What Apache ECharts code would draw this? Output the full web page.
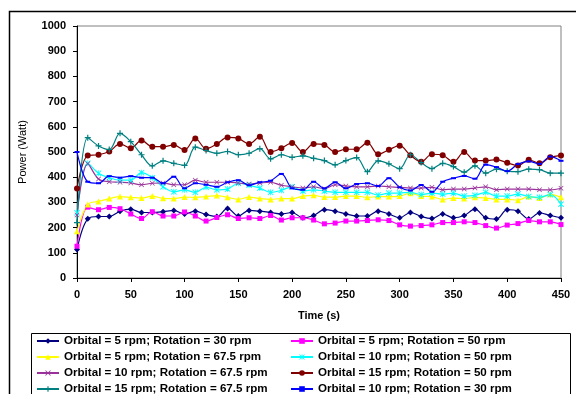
<!DOCTYPE html>
<html>
<head>
<meta charset="utf-8">
<script src="https://cdn.jsdelivr.net/npm/echarts@6/dist/echarts.min.js"></script>
<style>html,body{margin:0;padding:0;background:#fff;}#c{width:576px;height:394px;}</style>
</head>
<body>
<div id="c"></div>
<script>
var times = [0,10,20,30,40,50,60,70,80,90,100,110,120,130,140,150,160,170,180,190,200,210,220,230,240,250,260,270,280,290,300,310,320,330,340,350,360,370,380,390,400,410,420,430,440,450];
var xTicks = [0,50,100,150,200,250,300,350,400,450];
var yTicks = [0,100,200,300,400,500,600,700,800,900,1000];

var names = [
  "Orbital = 5 rpm; Rotation = 30 rpm",
  "Orbital = 5 rpm; Rotation = 50 rpm",
  "Orbital = 5 rpm; Rotation = 67.5 rpm",
  "Orbital = 10 rpm; Rotation = 50 rpm",
  "Orbital = 10 rpm; Rotation = 67.5 rpm",
  "Orbital = 15 rpm; Rotation = 50 rpm",
  "Orbital = 15 rpm; Rotation = 67.5 rpm",
  "Orbital = 10 rpm; Rotation = 30 rpm"
];

var o5r30 = [113,235,244,244,265,273,260,260,263,268,254,265,252,244,276,246,268,265,260,254,260,239,248,271,265,254,246,246,265,254,239,260,244,236,254,239,248,273,239,234,271,265,234,258,248,239];
var o5r50 = [126,281,271,280,275,254,236,263,246,246,262,246,226,240,251,236,239,236,248,230,239,239,230,215,218,226,226,228,231,228,211,206,208,211,220,220,223,220,208,198,210,216,228,223,223,212];
var o5r675 = [186,292,304,315,323,320,317,325,316,315,321,320,323,327,320,312,321,315,312,315,315,325,328,321,321,325,325,320,323,323,325,336,325,323,312,317,315,320,317,312,312,309,323,317,332,320];
var o10r50 = [259,455,416,398,388,388,418,398,362,342,350,340,360,350,353,376,368,357,340,348,362,345,350,345,340,340,340,340,329,337,337,340,331,337,333,337,325,328,340,325,325,333,323,320,331,293];
var o10r675 = [250,453,393,382,380,377,370,376,377,370,370,388,380,380,380,377,373,377,380,368,362,357,362,354,370,365,362,362,365,362,360,357,357,360,350,353,353,357,362,350,353,353,353,350,350,356];
var o15r50 = [355,486,489,502,532,515,546,521,521,528,508,554,513,532,558,554,532,561,500,515,536,500,532,528,500,511,511,537,491,509,525,487,461,491,487,461,500,466,466,470,457,446,469,455,479,486];
var o15r675 = [220,557,524,510,574,541,489,445,465,455,447,519,506,495,502,489,495,513,473,489,479,485,475,466,449,466,478,422,465,453,434,489,458,434,455,442,420,445,416,432,424,422,432,430,416,416];
var o10r30 = [500,382,376,404,398,404,398,398,376,402,356,376,370,362,380,388,368,380,386,413,356,350,382,356,380,356,373,376,365,396,360,347,369,342,382,396,405,394,450,440,424,452,463,453,482,465];

var values = [o5r30,o5r50,o5r675,o10r50,o10r675,o15r50,o15r675,o10r30];
var colors = ["#000080","#FF00FF","#FFFF00","#00FFFF","#993399","#800000","#008080","#0000FF"];
var plusPath = "path://M4,0H6V4H10V6H6V10H4V6H0V4H4Z";
var xPath = "path://M1,0L5,4L9,0L10,1L6,5L10,9L9,10L5,6L1,10L0,9L4,5L0,1Z";
var starPath = "path://M1,0L5,4L9,0L10,1L6,5L10,9L9,10L5,6L1,10L0,9L4,5L0,1Z M4.4,0H5.6V10H4.4Z";
var symbols = ["diamond","rect","triangle",starPath,xPath,"circle",plusPath,"rect"];
var sizes = [6,5,6,6,5,6,6,[5,2]];

var series = names.map(function(n,i){
  return {
    name: n,
    type: "line",
    smooth: 0.35,
    data: times.map(function(t,j){ return [t, values[i][j]]; }),
    symbol: symbols[i],
    symbolSize: sizes[i],
    showSymbol: true,
    lineStyle: {color: colors[i], width: 1.2},
    itemStyle: {color: colors[i]},
    emphasis: {disabled: true},
    animation: false
  };
});

var legendText = {fontFamily: "Liberation Sans, Arial, sans-serif", fontWeight: "bold", fontSize: 11.6, color: "#000"};
var rowCenters = [341, 357, 373, 389];
var legends = names.map(function(n,i){
  var col = i % 2, row = Math.floor(i / 2);
  return {
    data: [n], orient: "horizontal",
    left: col === 0 ? 36 : 290,
    top: rowCenters[row] - 6,
    padding: 0,
    itemWidth: 22, itemHeight: 7, itemGap: 4,
    textStyle: legendText, selectedMode: false
  };
});

var chart = echarts.init(document.getElementById("c"), null, {renderer: "canvas"});
chart.setOption({
  animation: false,
  backgroundColor: "#fff",
  grid: {left: 77, right: 15, top: 26, bottom: 116, show: true, borderColor: "#808080", borderWidth: 1},
  xAxis: {
    type: "value", min: xTicks[0], max: xTicks[xTicks.length-1], interval: 50,
    name: "Time (s)", nameLocation: "middle", nameGap: 32,
    nameTextStyle: {fontFamily: "Liberation Sans, Arial, sans-serif", fontWeight: "bold", fontSize: 11, color: "#000"},
    axisLine: {lineStyle: {color: "#000", width: 1}},
    axisTick: {show: true, length: 4, lineStyle: {color: "#000"}},
    axisLabel: {fontFamily: "Liberation Sans, Arial, sans-serif", fontWeight: "bold", fontSize: 11, color: "#000", margin: 11},
    splitLine: {show: false}
  },
  yAxis: {
    type: "value", min: yTicks[0], max: yTicks[yTicks.length-1], interval: 100,
    name: "Power (Watt)", nameLocation: "middle", nameGap: 49,
    nameTextStyle: {fontFamily: "Liberation Sans, Arial, sans-serif", fontWeight: "normal", fontSize: 11, color: "#000"},
    axisLine: {show: true, lineStyle: {color: "#000", width: 1}},
    axisTick: {show: true, length: 4, lineStyle: {color: "#000"}},
    axisLabel: {fontFamily: "Liberation Sans, Arial, sans-serif", fontWeight: "bold", fontSize: 11, color: "#000", margin: 11,
      formatter: function(v){ return String(v); }},
    splitLine: {show: false}
  },
  legend: legends,
  graphic: [
    {type: "rect", left: 7, top: 9, shape: {width: 620, height: 420}, style: {fill: "none", stroke: "#000", lineWidth: 1.5}, silent: true, z: -1},
    {type: "rect", left: 29, top: 331, shape: {width: 539, height: 80}, style: {fill: "none", stroke: "#000", lineWidth: 1}, silent: true, z: -1}
  ],
  series: series
});
</script>
</body>
</html>
